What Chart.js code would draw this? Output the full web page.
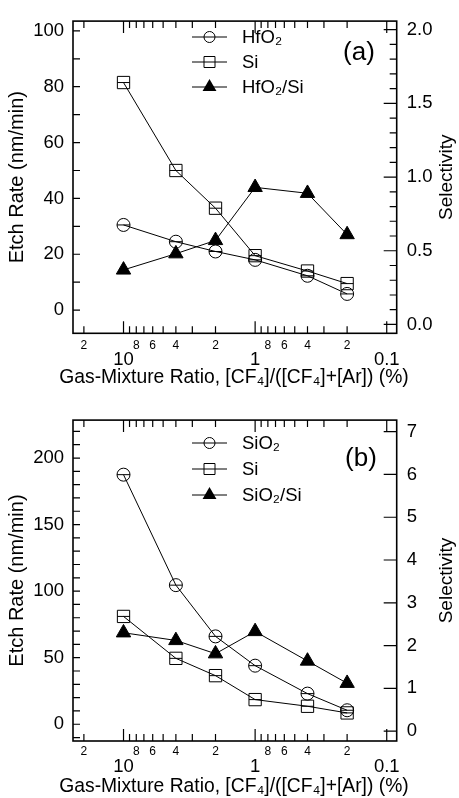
<!DOCTYPE html>
<html><head><meta charset="utf-8">
<script src="https://cdn.jsdelivr.net/npm/chart.js@4/dist/chart.umd.min.js"></script>
<style>
html,body{margin:0;padding:0;background:#fff;width:459px;height:798px;overflow:hidden}
canvas{position:absolute;left:0}
</style></head><body>
<canvas id="ca" width="459" height="399" style="top:0"></canvas>
<canvas id="cb" width="459" height="399" style="top:399px"></canvas>
<script>
// ---- data ----
const ratioX = [10, 4, 2, 1, 0.4, 0.2];
const hfo2Rate = [30.5, 24.5, 21, 18, 12.3, 5.8];
const siRateA = [81.5, 50, 36.5, 19.5, 14, 9.5];
const hfo2SiSel = [0.37, 0.48, 0.57, 0.93, 0.89, 0.61];
const sio2Rate = [187.5, 104.5, 66, 44, 23, 10.5];
const siRateB = [81, 49.5, 36.5, 18.5, 13.5, 8.5];
const sio2SiSel = [2.3, 2.12, 1.81, 2.33, 1.64, 1.12];

const xTickValues = [20,10,9,8,7,6,5,4,3,2,1,0.9,0.8,0.7,0.6,0.5,0.4,0.3,0.2,0.1];
const xTickLabels = ['2','10','','8','','6','','4','','2','1','','8','','6','','4','','2','0.1'];
const xMajorTicks = [10, 1, 0.1];
const leftTicksA = [0, 20, 40, 60, 80, 100];
const rightTicksA = [0, 0.5, 1.0, 1.5, 2.0];
const leftTicksB = [0, 50, 100, 150, 200];
const rightTicksB = [0, 1, 2, 3, 4, 5, 6, 7];
const legendA = ['HfO\u2082', 'Si', 'HfO\u2082/Si'];
const legendB = ['SiO\u2082', 'Si', 'SiO\u2082/Si'];
const xTitle = 'Gas-Mixture Ratio, [CF\u2084]/([CF\u2084]+[Ar]) (%)';

const FAM = '"Liberation Sans", Arial, Helvetica, sans-serif';

function xy(xs, ys) { return xs.map((x, i) => ({x: x, y: ys[i]})); }

function seriesSet(label, ys, style, axis, fill) {
  const r = style === 'circle' ? 6.5 : (style === 'rect' ? 8.7 : 8.3);
  return {
    label: label, data: xy(ratioX, ys), yAxisID: axis,
    borderColor: '#000', borderWidth: 1, tension: 0,
    pointStyle: style, pointRadius: r, pointBorderWidth: 1,
    pointBorderColor: '#000', pointBackgroundColor: fill ? '#000' : 'rgba(0,0,0,0)',
    clip: false
  };
}
function barSet(ys, axis, r) {
  return {
    label: '_bar', data: xy(ratioX, ys), yAxisID: axis, showLine: false,
    pointStyle: 'line', pointRadius: r, pointBorderWidth: 1, pointBorderColor: '#000',
    borderColor: '#000', clip: false
  };
}

const framePlugin = {
  id: 'frameTicks',
  afterDatasetsDraw(chart, args, o) {
    const {ctx, chartArea: ca, scales} = chart;
    ctx.save();
    ctx.strokeStyle = '#000';
    ctx.lineWidth = 1.2;
    ctx.beginPath();
    for (const v of xTickValues) {
      const px = scales.x.getPixelForValue(v);
      if (px < ca.left - 0.5 || px > ca.right + 0.5) continue;
      const len = xMajorTicks.includes(v) ? 12 : 7;
      ctx.moveTo(px, ca.bottom); ctx.lineTo(px, ca.bottom - len);
      ctx.moveTo(px, ca.top); ctx.lineTo(px, ca.top + len);
    }
    const y = scales.y;
    for (let k = Math.ceil(y.min / o.leftStep); k * o.leftStep <= y.max; k++) {
      const py = y.getPixelForValue(k * o.leftStep);
      ctx.moveTo(ca.left, py); ctx.lineTo(ca.left + 7, py);
    }
    const y2 = scales.y2;
    for (let k = Math.ceil(y2.min / o.rightStep - 1e-6); k * o.rightStep <= y2.max + 1e-6; k++) {
      const v = k * o.rightStep;
      const py = y2.getPixelForValue(v);
      const major = Math.abs(v / o.rightMajor - Math.round(v / o.rightMajor)) < 1e-6;
      const len = major ? 13 : 7;
      ctx.moveTo(ca.right, py); ctx.lineTo(ca.right - len, py);
    }
    ctx.stroke();
    ctx.lineWidth = 1.6;
    ctx.strokeRect(ca.left, ca.top, ca.right - ca.left, ca.bottom - ca.top);
    ctx.restore();
  },
  afterDraw(chart, args, o) {
    const {ctx, chartArea: ca} = chart;
    ctx.save();
    ctx.fillStyle = '#000';
    ctx.textAlign = 'center';
    ctx.textBaseline = 'middle';
    // x axis title
    ctx.font = '19.3px ' + FAM;
    ctx.fillText(xTitle, 234, o.xTitleY);
    // right axis title, reading bottom to top
    ctx.font = '19px ' + FAM;
    ctx.translate(447, (ca.top + ca.bottom) / 2);
    ctx.rotate(-Math.PI / 2);
    ctx.fillText('Selectivity', 0, 0);
    ctx.restore();

    ctx.save();
    ctx.fillStyle = '#000';
    ctx.font = '26px ' + FAM;
    ctx.textAlign = 'center';
    ctx.textBaseline = 'middle';
    ctx.fillText(o.panel, o.panelX, o.panelY);

    // legend
    const styles = ['circle', 'rect', 'triangle'];
    ctx.font = '18.5px ' + FAM;
    ctx.textAlign = 'left';
    ctx.strokeStyle = '#000';
    for (let i = 0; i < 3; i++) {
      const yy = o.legendY[i];
      const cx = 209.5;
      ctx.lineWidth = 1;
      ctx.beginPath();
      ctx.moveTo(192, yy); ctx.lineTo(227, yy);
      ctx.stroke();
      ctx.beginPath();
      if (styles[i] === 'circle') {
        ctx.arc(cx, yy, 5.5, 0, Math.PI * 2);
        ctx.stroke();
      } else if (styles[i] === 'rect') {
        ctx.rect(cx - 5.5, yy - 5.5, 11, 11);
        ctx.stroke();
      } else {
        const r = 8;
        ctx.moveTo(cx, yy - r);
        ctx.lineTo(cx + r * Math.sin(2 * Math.PI / 3), yy + r * 0.5);
        ctx.lineTo(cx - r * Math.sin(2 * Math.PI / 3), yy + r * 0.5);
        ctx.closePath();
        ctx.fillStyle = '#000';
        ctx.fill();
      }
      ctx.fillStyle = '#000';
      ctx.fillText(o.legend[i], 242, yy + 1);
    }
    ctx.restore();
  }
};

function makeChart(id, p) {
  return new Chart(document.getElementById(id), {
    type: 'line',
    data: {datasets: p.datasets},
    options: {
      responsive: false, animation: false, devicePixelRatio: 1,
      layout: {padding: {top: p.padTop, left: 0, right: 0, bottom: 0}},
      plugins: {
        legend: {display: false}, tooltip: {enabled: false},
        frameTicks: {leftStep: 10, rightStep: p.rightStep, rightMajor: p.rightMajor, xTitleY: p.xTitleY,
          panel: p.panel, panelX: p.panelX, panelY: p.panelY, legend: p.legend, legendY: p.legendY}
      },
      scales: {
        x: {
          type: 'logarithmic', reverse: true, min: 0.084, max: 24.2, position: 'bottom',
          grid: {display: false, drawTicks: false}, border: {display: false},
          afterBuildTicks: s => { s.ticks = xTickValues.map(v => ({value: v})); },
          afterFit: s => { s.height = p.xHeight; },
          ticks: {
            autoSkip: false, maxRotation: 0, minRotation: 0, padding: p.xTickPad, color: '#000',
            callback: (v, i) => xTickLabels[i],
            font: c => (c.tick && xMajorTicks.includes(c.tick.value))
              ? {family: FAM, size: 18.5, lineHeight: p.majorLH}
              : {family: FAM, size: 12, lineHeight: 1.2}
          }
        },
        y: {
          position: 'left', min: p.yMin, max: p.yMax,
          grid: {display: false, drawTicks: false}, border: {display: false},
          afterBuildTicks: s => { s.ticks = p.leftTicks.map(v => ({value: v})); },
          afterFit: s => { s.width = 73; },
          ticks: {padding: 9, color: '#000', font: {family: FAM, size: 18.5}, callback: v => String(v)},
          title: {display: true, text: 'Etch Rate (nm/min)', color: '#000',
            font: {family: FAM, size: 20}, padding: {top: 5, bottom: 0}}
        },
        y2: {
          position: 'right', min: p.y2Min, max: p.y2Max,
          grid: {display: false, drawTicks: false}, border: {display: false},
          afterBuildTicks: s => { s.ticks = p.rightTicks.map(v => ({value: v})); },
          afterFit: s => { s.width = 62.3; },
          ticks: {padding: 10, color: '#000', font: {family: FAM, size: 18.5}, callback: p.rightFmt}
        }
      }
    },
    plugins: [framePlugin]
  });
}

makeChart('ca', {
  datasets: [
    seriesSet(legendA[0], hfo2Rate, 'circle', 'y', false),
    seriesSet(legendA[1], siRateA, 'rect', 'y', false),
    seriesSet(legendA[2], hfo2SiSel, 'triangle', 'y2', true),
    barSet(hfo2Rate, 'y', 6.5),
    barSet(siRateA, 'y', 6.2)
  ],
  padTop: 13.3, xHeight: 65.7, xTickPad: 5.5, majorLH: 2.3, xTitleY: 378,
  yMin: -8.3, yMax: 103.5, y2Min: -0.06, y2Max: 2.058,
  leftTicks: leftTicksA, rightTicks: rightTicksA, rightFmt: v => v.toFixed(1),
  rightStep: 0.1, rightMajor: 0.5,
  panel: '(a)', panelX: 359, panelY: 53, legend: legendA, legendY: [37, 62, 87]
});

makeChart('cb', {
  datasets: [
    seriesSet(legendB[0], sio2Rate, 'circle', 'y', false),
    seriesSet(legendB[1], siRateB, 'rect', 'y', false),
    seriesSet(legendB[2], sio2SiSel, 'triangle', 'y2', true),
    barSet(sio2Rate, 'y', 6.5),
    barSet(siRateB, 'y', 6.2)
  ],
  padTop: 17.7, xHeight: 57, xTickPad: 3.8, majorLH: 2.42, xTitleY: 388,
  yMin: -12.6, yMax: 228.5, y2Min: -0.23, y2Max: 7.27,
  leftTicks: leftTicksB, rightTicks: rightTicksB, rightFmt: v => String(v),
  rightStep: 1, rightMajor: 1,
  panel: '(b)', panelX: 361, panelY: 60, legend: legendB, legendY: [44, 70, 96]
});
</script>
</body></html>
